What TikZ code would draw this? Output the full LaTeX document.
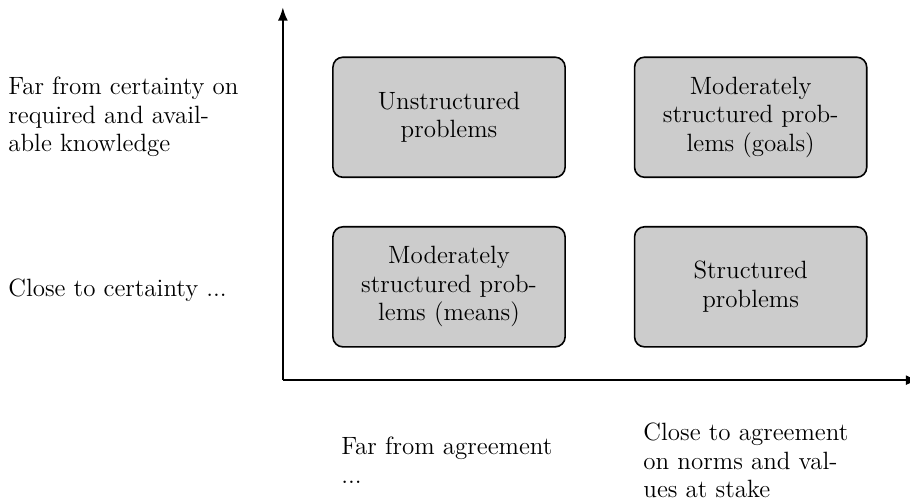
\documentclass[tikz,border=0pt]{standalone}
\usepackage{tikz}
\usetikzlibrary{arrows.meta}

\begin{document}
\begin{tikzpicture}
            \useasboundingbox (-4.97,-2.11) rectangle (11.02,6.68);

            \begin{scope}[every node/.style={fill=black!20, rounded corners=5pt, thick, draw,
                          minimum width=4.08cm, minimum height=2.11cm, align=center,
                          font=\fontsize{12.5}{14.25}\selectfont}]
                \node (A) at (2.92,4.62) {Unstructured\\problems};
                \node (B) at (8.22,4.62) {Moderately\\structured prob-\\lems (goals)};
                \node (C) at (2.92,1.64) {Moderately\\structured prob-\\lems (means)};
                \node (D) at (8.22,1.64) {Structured\\problems};

            \end{scope}

            \begin{scope}[every node/.style={anchor=west, align=left, inner sep=0pt,
                          font=\fontsize{12.5}{14.25}\selectfont}]
                \node (Y1) at (-4.83,4.62) {Far from certainty on\\required and avail-\\able knowledge};
                \node (Y2) at (-4.83,1.58) {Close to certainty ...};
                \node (X1) at (1.02,-1.41) {Far from agreement\\...};
                \node (X2) at (6.33,-1.41) {Close to agreement\\on norms and val-\\ues at stake};

            \end{scope}

            \coordinate (O) at (0,0);
            \coordinate (X) at (11.18,0);
            \coordinate (Y) at (0,6.55);

            \begin{scope}[>={Latex[black]},
                          every edge/.style={draw=black,thick}]
                \path [->] (O) edge (X);
                \path [->] (O) edge (Y);

            \end{scope}
        \end{tikzpicture}
\end{document}
